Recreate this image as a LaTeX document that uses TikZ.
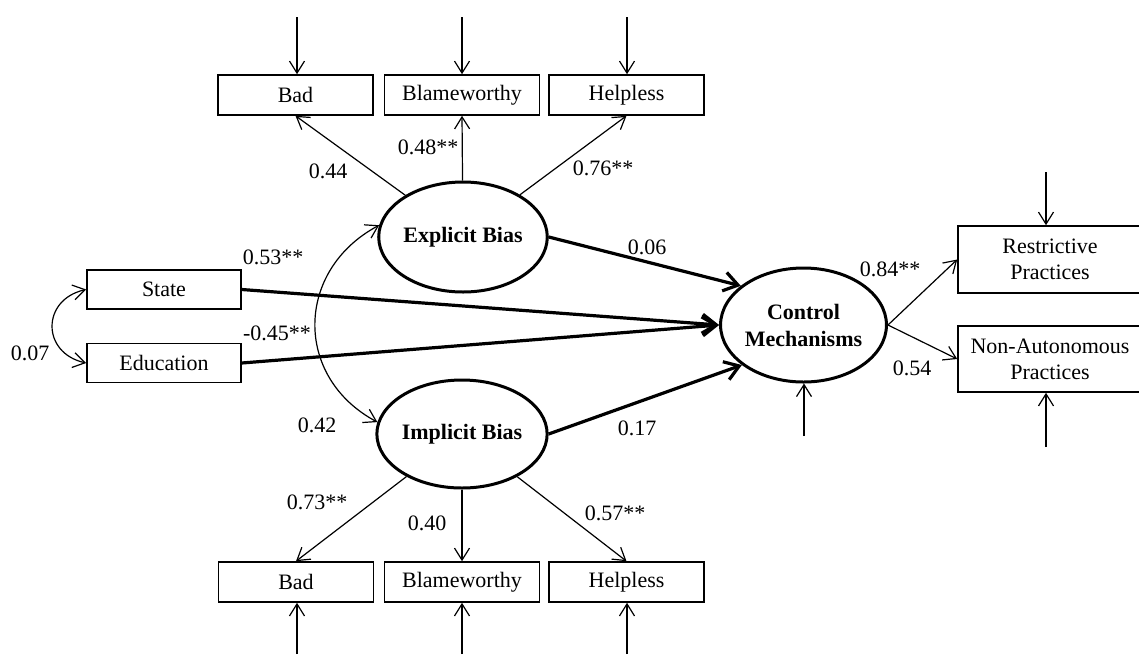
\documentclass[tikz,border=0pt]{standalone}
\usepackage{fontspec}
\setmainfont{Liberation Serif}
\usetikzlibrary{arrows.meta,calc,shapes.geometric}
\begin{document}
\begin{tikzpicture}[x=1pt,y=-1pt,
  every node/.style={font=\fontsize{22}{26}\selectfont},
  obs/.style={draw,line width=1.6pt,rectangle,minimum width=155pt,minimum height=40pt,inner sep=0pt,align=center},
  lat/.style={draw,line width=3pt,ellipse,inner sep=0pt,align=center,font=\fontsize{22}{27}\selectfont\bfseries},
  thinarr/.style={line width=1.2pt,-{Straight Barb[length=12pt,width=15pt]}},
  twoway/.style={line width=1.2pt,{Straight Barb[length=12pt,width=15pt]}-{Straight Barb[length=12pt,width=15pt]}},
  heavyarr/.style={line width=3.2pt,-{Straight Barb[length=14pt,width=19pt]}},
  coef/.style={inner sep=0pt}]
\clip (0,0) rectangle (1139,654);

% indicators of explicit bias
\node[obs] (bad1)   at (295.5,95) {Bad};
\node[obs] (blame1) at (462,95)   {Blameworthy};
\node[obs] (help1)  at (626.5,95) {Helpless};

% latent variables
\node[lat,minimum width=158pt,minimum height=110pt] (explicit) at (463,237) {Explicit Bias};
\node[lat,minimum width=156pt,minimum height=108pt] (implicit) at (462,434) {Implicit Bias};
\node[lat,minimum width=153pt,minimum height=114pt] (control) at (803.5,325) {Control\\Mechanisms};

% indicators of implicit bias
\node[obs] (bad2)   at (296,582)   {Bad};
\node[obs] (blame2) at (462,582)   {Blameworthy};
\node[obs] (help2)  at (626.5,582) {Helpless};

% covariates
\node[obs,minimum width=154pt,minimum height=39pt] (state) at (164,289.5) {State};
\node[obs,minimum width=154pt,minimum height=39pt] (educ)  at (164,363)   {Education};

% outcomes
\node[obs,minimum width=184pt,minimum height=67pt] (restr)  at (1050,259.5) {Restrictive\\Practices};
\node[obs,minimum width=184pt,minimum height=66pt] (nonaut) at (1050,359)   {Non-Autonomous\\Practices};

% error terms
\coordinate (ebad1)   at (297,17);
\coordinate (eblame1) at (462,17);
\coordinate (ehelp1)  at (627,17);
\coordinate (ebad2)   at (297,654);
\coordinate (eblame2) at (462,654);
\coordinate (ehelp2)  at (627,654);
\coordinate (erestr)  at (1046,172);
\coordinate (enonaut) at (1046,447);
\coordinate (econtrol) at (804,436);

\draw[thinarr] (ebad1)   -- (ebad1 |- bad1.north);
\draw[thinarr] (eblame1) -- (eblame1 |- blame1.north);
\draw[thinarr] (ehelp1)  -- (ehelp1 |- help1.north);
\draw[thinarr] (ebad2)   -- (ebad2 |- bad2.south);
\draw[thinarr] (eblame2) -- (eblame2 |- blame2.south);
\draw[thinarr] (ehelp2)  -- (ehelp2 |- help2.south);
\draw[thinarr] (erestr)  -- (erestr |- restr.north);
\draw[thinarr] (enonaut) -- (enonaut |- nonaut.south);
\draw[thinarr] (econtrol) -- (econtrol |- control.south);

% loadings
\draw[thinarr] (explicit) -- (bad1.south);
\draw[thinarr] (explicit) -- (blame1.south);
\draw[thinarr] (explicit) -- (help1.south);
\draw[thinarr] (implicit) -- (bad2.north);
\draw[thinarr] (implicit) -- (blame2.north);
\draw[thinarr] (implicit) -- (help2.north);
\draw[thinarr] (control.east) -- (restr.west);
\draw[thinarr] (control.east) -- (nonaut.west);

% structural paths
\draw[heavyarr] (state.east) -- (control.west);
\draw[heavyarr] (educ.east)  -- (control.west);
\draw[heavyarr] (explicit.east) -- (control.148);
\draw[heavyarr] (implicit.east) -- (control.213);

% covariances
\draw[twoway] (state.west) .. controls +(-45,10) and +(-45,-10) .. (educ.west);
\draw[twoway] (explicit.172) .. controls +(-84,45) and +(-84,-45) .. (implicit.172);

% coefficients
\node[coef] (c044) at (328,171) {0.44};
\node[coef] (c048) at (428,147) {0.48**};
\node[coef] (c076) at (603,168) {0.76**};
\node[coef] (c053) at (273,257) {0.53**};
\node[coef] (c045) at (277,333) {-0.45**};
\node[coef] (c007) at (30,353)  {0.07};
\node[coef] (c006) at (647,247) {0.06};
\node[coef] (c017) at (637,428) {0.17};
\node[coef] (c042) at (317,425) {0.42};
\node[coef] (c084) at (890,269) {0.84**};
\node[coef] (c054) at (912,368) {0.54};
\node[coef] (c073) at (317,502) {0.73**};
\node[coef] (c040) at (427,523) {0.40};
\node[coef] (c057) at (615,513) {0.57**};
\end{tikzpicture}
\end{document}
